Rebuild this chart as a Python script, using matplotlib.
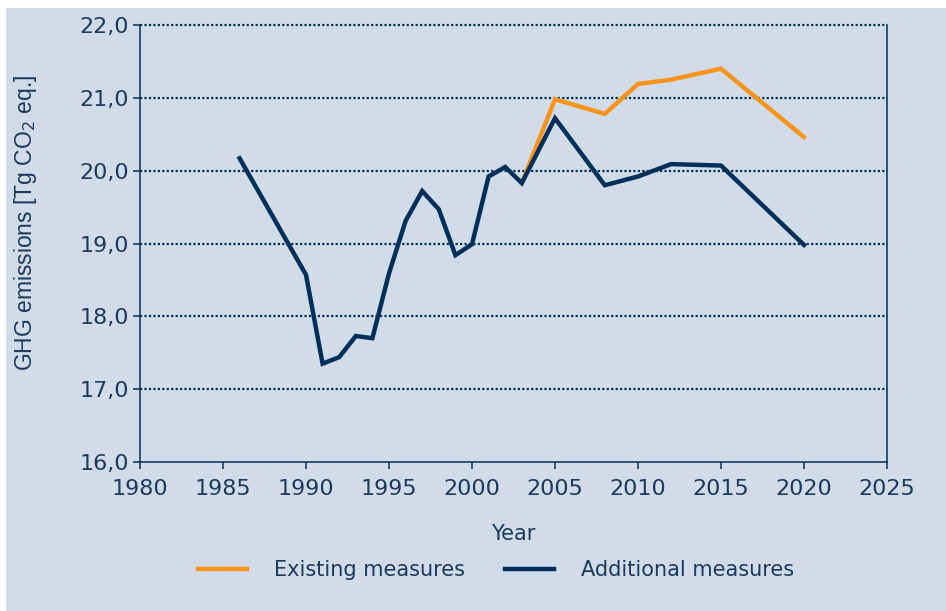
import matplotlib
matplotlib.use("Agg")
import matplotlib.pyplot as plt
from matplotlib.patches import Rectangle
from matplotlib.ticker import FuncFormatter

# Data
years_add = [1986, 1990, 1991, 1992, 1993, 1994, 1995, 1996, 1997, 1998, 1999,
             2000, 2001, 2002, 2003, 2005, 2008, 2010, 2012, 2015, 2020]
additional = [20.17, 18.57, 17.35, 17.44, 17.73, 17.70, 18.59, 19.31, 19.72, 19.47, 18.84,
              18.99, 19.92, 20.05, 19.83, 20.72, 19.80, 19.92, 20.09, 20.07, 18.98]
years_ex = [2003, 2005, 2008, 2010, 2012, 2015, 2020]
existing = [19.83, 20.98, 20.78, 21.19, 21.25, 21.40, 20.46]
x_ticks = [1980, 1985, 1990, 1995, 2000, 2005, 2010, 2015, 2020, 2025]
y_ticks = [16, 17, 18, 19, 20, 21, 22]

NAVY = "#00305a"
ORANGE = "#f7941d"
TEXT = "#1b3a5e"
BG = "#d2dce8"

fig = plt.figure(figsize=(9.46, 6.11), dpi=100, facecolor="white")
fig.patches.append(Rectangle((6/946, 0), 1, 1 - 8/611, transform=fig.transFigure,
                             facecolor=BG, edgecolor="none", zorder=-10))

ax = fig.add_axes([140/946, 1 - 462/611, (887-140)/946, (462-25)/611])
ax.set_facecolor(BG)

ax.plot(years_ex, existing, color=ORANGE, lw=3.2, solid_joinstyle="miter",
        label="Existing measures", zorder=3)
ax.plot(years_add, additional, color=NAVY, lw=3.2, solid_joinstyle="miter",
        label="Additional measures", zorder=4)

ax.set_xlim(1980, 2025)
ax.set_ylim(16, 22)
ax.set_xticks(x_ticks)
ax.set_yticks(y_ticks)
ax.yaxis.set_major_formatter(FuncFormatter(lambda v, p: f"{v:.1f}".replace(".", ",")))

for yv in y_ticks[1:]:
    ax.axhline(yv, color=NAVY, lw=1.6, linestyle=(0, (1, 1)), zorder=1, clip_on=False)

for s in ["left", "bottom", "right"]:
    ax.spines[s].set_color(NAVY)
    ax.spines[s].set_linewidth(1.1)
ax.spines["top"].set_visible(False)

ax.tick_params(axis="both", direction="out", length=5, width=1.1, color=NAVY,
               labelcolor=TEXT, labelsize=16)
ax.tick_params(axis="x", pad=7)
ax.tick_params(axis="y", pad=3)
for lbl in ax.get_xticklabels() + ax.get_yticklabels():
    lbl.set_family("DejaVu Sans")

ax.set_xlabel("Year", fontsize=15, color=TEXT, labelpad=18)
fig.text(26/946, 1 - 223/611, "GHG emissions [Tg CO$_2$ eq.]", rotation=90,
         ha="center", va="center", fontsize=16.5, color=TEXT, family="Liberation Sans")

leg = fig.legend(loc="center", bbox_to_anchor=(496/946, 1 - 570/611), ncol=2,
                 frameon=False, fontsize=15, handlelength=2.35, handletextpad=1.3,
                 columnspacing=1.9)
for t in leg.get_texts():
    t.set_color(TEXT)

fig.savefig("out.png", dpi=100, facecolor=fig.get_facecolor())
